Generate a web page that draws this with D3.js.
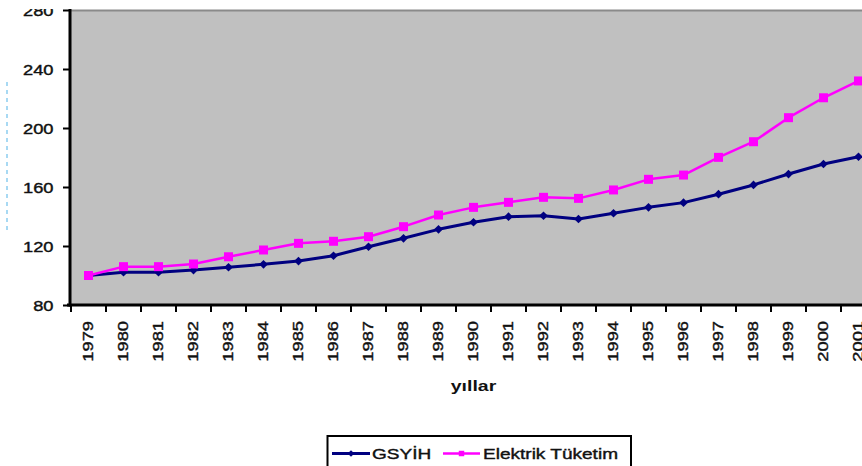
<!DOCTYPE html>
<html>
<head>
<meta charset="utf-8">
<script src="https://cdn.jsdelivr.net/npm/d3@7"></script>
<style>
  html, body { margin: 0; padding: 0; background: #ffffff; }
  svg { display: block; font-family: "Liberation Sans", Arial, sans-serif; }
  .lbl { fill: #111; stroke: #111; stroke-width: 0.4px; }
</style>
</head>
<body>
<div id="chart"></div>
<script>
// Index values (1979 = 100)
const years = ["1979","1980","1981","1982","1983","1984","1985","1986","1987","1988","1989","1990",
               "1991","1992","1993","1994","1995","1996","1997","1998","1999","2000","2001"];
const gsyih = [100, 102.2, 102.2, 103.7, 105.6, 107.6, 109.8, 113.4, 119.5, 125.2, 131.3, 136.1,
               139.9, 140.5, 138.3, 142.2, 146.2, 149.4, 155.1, 161.4, 168.8, 175.6, 180.5];
const elektrik = [100, 106, 106, 107.8, 112.7, 117.3, 121.8, 123.2, 126.3, 133.1, 141, 146.2,
                  149.6, 153, 152.3, 158, 165.2, 168.1, 180.1, 190.7, 207, 220.5, 231.9];
const yTicks = [80, 120, 160, 200, 240, 280];
const seriesNames = ["GSYİH", "Elektrik Tüketim"];
const xTitle = "yıllar";

const W = 862, H = 466;
const plot = { left: 71, top: 10, right: 876, bottom: 305 };
const stretch = 1.22;

const svg = d3.select("#chart").append("svg")
  .attr("width", W).attr("height", H)
  .attr("viewBox", `0 0 ${W} ${H}`);

const defs = svg.append("defs");
defs.append("clipPath").attr("id", "frame")
  .attr("clipPathUnits", "userSpaceOnUse")
  .append("rect").attr("x", 0).attr("y", 9).attr("width", W).attr("height", H);

const root = svg.append("g").attr("clip-path", "url(#frame)");

const x = d3.scaleBand().domain(years).range([plot.left, plot.right]).padding(0);
const y = d3.scaleLinear().domain([80, 280]).range([plot.bottom, plot.top]);

// plot area
root.append("rect")
  .attr("x", plot.left).attr("y", plot.top)
  .attr("width", plot.right - plot.left).attr("height", plot.bottom - plot.top)
  .attr("fill", "#c0c0c0");
root.append("line")
  .attr("x1", plot.left).attr("x2", plot.right)
  .attr("y1", plot.top + 0.5).attr("y2", plot.top + 0.5)
  .attr("stroke", "#8a8a8a").attr("stroke-width", 2);

// faint dashed guide at the far left
root.append("line")
  .attr("x1", 7).attr("x2", 7).attr("y1", 82).attr("y2", 234)
  .attr("stroke", "#9fd5f2").attr("stroke-width", 1.8)
  .attr("stroke-dasharray", "4,4");

// y axis
const yAxis = root.append("g")
  .attr("transform", `translate(${plot.left - 1},0)`)
  .call(d3.axisLeft(y).tickValues(yTicks).tickSize(7).tickSizeOuter(0));
yAxis.select(".domain").attr("stroke", "#000").attr("stroke-width", 3)
  .attr("d", `M0,${plot.top - 1}V${plot.bottom + 1.5}`);
yAxis.selectAll(".tick line").attr("stroke", "#000").attr("stroke-width", 2);
yAxis.selectAll(".tick text")
  .attr("class", "lbl")
  .attr("x", -16.5 / stretch)
  .attr("dy", "0.36em")
  .attr("transform", `scale(${stretch},1)`)
  .attr("font-size", 15)
  .attr("font-family", "'Liberation Sans', Arial, sans-serif");

// x axis: labels centred in each band
const xAxis = root.append("g")
  .attr("transform", `translate(0,${plot.bottom})`)
  .call(d3.axisBottom(x).tickSize(0).tickSizeOuter(0));
xAxis.select(".domain").attr("stroke", "#000").attr("stroke-width", 3)
  .attr("d", `M${plot.left - 4},0H${plot.right}`);
xAxis.selectAll(".tick text")
  .attr("class", "lbl")
  .attr("text-anchor", "end")
  .attr("x", -16 / stretch)
  .attr("y", 0)
  .attr("dy", "0.3em")
  .attr("transform", `rotate(-90) scale(${stretch},1)`)
  .attr("font-size", 15)
  .attr("font-family", "'Liberation Sans', Arial, sans-serif");

// x tick marks at band boundaries
const edges = years.map(d => x(d)).concat([x(years[years.length - 1]) + x.bandwidth()]);
root.append("g").selectAll("line").data(edges).join("line")
  .attr("x1", d => d).attr("x2", d => d)
  .attr("y1", plot.bottom).attr("y2", plot.bottom + 7)
  .attr("stroke", "#000").attr("stroke-width", 2);

// axis title
root.append("text")
  .attr("transform", `translate(${(plot.left + plot.right) / 2},391) scale(1.3,1)`)
  .attr("text-anchor", "middle")
  .attr("font-size", 15).attr("font-weight", "bold")
  .attr("fill", "#111")
  .text(xTitle);

// series
const cx = d => x(d) + x.bandwidth() / 2;
const line = d3.line().x(d => cx(d.year)).y(d => y(d.value));

const navy = "#000080", magenta = "#ff00ff";
const dataG = years.map((yr, i) => ({ year: yr, value: gsyih[i] }));
const dataE = years.map((yr, i) => ({ year: yr, value: elektrik[i] }));

const sq = d3.symbol().type(d3.symbolSquare);

root.append("path").datum(dataG)
  .attr("d", line).attr("fill", "none")
  .attr("stroke", navy).attr("stroke-width", 3).attr("stroke-linejoin", "round");
root.append("g").selectAll("path").data(dataG).join("path")
  .attr("d", sq.size(38)())
  .attr("transform", d => `translate(${cx(d.year)},${y(d.value)}) rotate(45)`)
  .attr("fill", navy);

root.append("path").datum(dataE)
  .attr("d", line).attr("fill", "none")
  .attr("stroke", magenta).attr("stroke-width", 2.5).attr("stroke-linejoin", "round");
root.append("g").selectAll("path").data(dataE).join("path")
  .attr("d", sq.size(81)())
  .attr("transform", d => `translate(${cx(d.year)},${y(d.value)})`)
  .attr("fill", magenta);

// legend
const lg = root.append("g");
lg.append("rect")
  .attr("x", 327.5).attr("y", 436).attr("width", 303.5).attr("height", 60)
  .attr("fill", "#fff").attr("stroke", "#000").attr("stroke-width", 2);

const legendItems = [
  { name: seriesNames[0], color: navy, x0: 332, x1: 370, tx: 372, width: 3,
    marker: sq.size(22)(), rot: 45 },
  { name: seriesNames[1], color: magenta, x0: 443, x1: 480, tx: 483, width: 2.5,
    marker: sq.size(30)(), rot: 0 }
];
legendItems.forEach(it => {
  lg.append("line")
    .attr("x1", it.x0).attr("x2", it.x1).attr("y1", 453.5).attr("y2", 453.5)
    .attr("stroke", it.color).attr("stroke-width", it.width);
  lg.append("path").attr("d", it.marker)
    .attr("transform", `translate(${(it.x0 + it.x1) / 2},453.5) rotate(${it.rot})`)
    .attr("fill", it.color);
  lg.append("text")
    .attr("class", "lbl")
    .attr("transform", `translate(${it.tx},458.5) scale(${stretch + 0.05},1)`)
    .attr("font-size", 15)
    .text(it.name);
});
</script>
</body>
</html>
